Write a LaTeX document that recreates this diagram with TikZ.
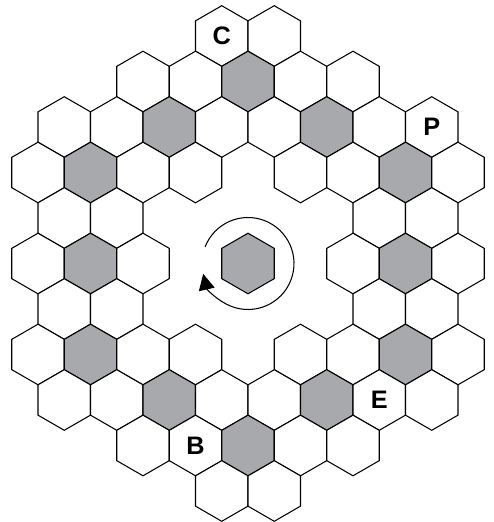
\documentclass[tikz,border=0pt]{standalone}
\usepackage{fontspec}
\setsansfont{Liberation Sans}
\usetikzlibrary{arrows.meta, shapes.geometric}
\definecolor{hexgray}{HTML}{A7A9AC}

\begin{document}
\begin{tikzpicture}[every node/.style={font=\sffamily\bfseries\fontsize{14.4}{15}\selectfont},
  cell/.style={regular polygon, regular polygon sides=6, shape border rotate=30, draw=black, line width=0.6pt, fill=white, minimum size=1.212cm, inner sep=0pt, outer sep=0pt},
  shaded/.style={cell, fill=hexgray},
]
\useasboundingbox (-4.96,-5.17) rectangle (4.9,5.27);
\node[cell] (h0-8) at (-0.525, 4.55) {C}; \node[cell] (h0-10) at (0.525, 4.55) {};
\node[cell] (h1-5) at (-2.1, 3.64) {}; \node[cell] (h1-7) at (-1.05, 3.64) {}; \node[shaded] (h1-9) at (0, 3.64) {}; \node[cell] (h1-11) at (1.05, 3.64) {}; \node[cell] (h1-13) at (2.1, 3.64) {};
\node[cell] (h2-2) at (-3.675, 2.73) {}; \node[cell] (h2-4) at (-2.625, 2.73) {}; \node[shaded] (h2-6) at (-1.575, 2.73) {}; \node[cell] (h2-8) at (-0.525, 2.73) {};
\node[cell] (h2-10) at (0.525, 2.73) {}; \node[shaded] (h2-12) at (1.575, 2.73) {}; \node[cell] (h2-14) at (2.625, 2.73) {}; \node[cell] (h2-16) at (3.675, 2.73) {P};
\node[cell] (h3-1) at (-4.2, 1.82) {}; \node[shaded] (h3-3) at (-3.15, 1.82) {}; \node[cell] (h3-5) at (-2.1, 1.82) {}; \node[cell] (h3-7) at (-1.05, 1.82) {};
\node[cell] (h3-11) at (1.05, 1.82) {}; \node[cell] (h3-13) at (2.1, 1.82) {}; \node[shaded] (h3-15) at (3.15, 1.82) {}; \node[cell] (h3-17) at (4.2, 1.82) {};
\node[cell] (h4-2) at (-3.675, 0.91) {}; \node[cell] (h4-4) at (-2.625, 0.91) {}; \node[cell] (h4-14) at (2.625, 0.91) {}; \node[cell] (h4-16) at (3.675, 0.91) {};
\node[cell] (h5-1) at (-4.2, 0) {}; \node[shaded] (h5-3) at (-3.15, 0) {}; \node[cell] (h5-5) at (-2.1, 0) {};
\node[cell] (h5-13) at (2.1, 0) {}; \node[shaded] (h5-15) at (3.15, 0) {}; \node[cell] (h5-17) at (4.2, 0) {};
\node[cell] (h6-2) at (-3.675, -0.91) {}; \node[cell] (h6-4) at (-2.625, -0.91) {}; \node[cell] (h6-14) at (2.625, -0.91) {}; \node[cell] (h6-16) at (3.675, -0.91) {};
\node[cell] (h7-1) at (-4.2, -1.82) {}; \node[shaded] (h7-3) at (-3.15, -1.82) {}; \node[cell] (h7-5) at (-2.1, -1.82) {}; \node[cell] (h7-7) at (-1.05, -1.82) {};
\node[cell] (h7-11) at (1.05, -1.82) {}; \node[cell] (h7-13) at (2.1, -1.82) {}; \node[shaded] (h7-15) at (3.15, -1.82) {}; \node[cell] (h7-17) at (4.2, -1.82) {};
\node[cell] (h8-2) at (-3.675, -2.73) {}; \node[cell] (h8-4) at (-2.625, -2.73) {}; \node[shaded] (h8-6) at (-1.575, -2.73) {}; \node[cell] (h8-8) at (-0.525, -2.73) {};
\node[cell] (h8-10) at (0.525, -2.73) {}; \node[shaded] (h8-12) at (1.575, -2.73) {}; \node[cell] (h8-14) at (2.625, -2.73) {E}; \node[cell] (h8-16) at (3.675, -2.73) {};
\node[cell] (h9-5) at (-2.1, -3.64) {}; \node[cell] (h9-7) at (-1.05, -3.64) {B}; \node[shaded] (h9-9) at (0, -3.64) {}; \node[cell] (h9-11) at (1.05, -3.64) {}; \node[cell] (h9-13) at (2.1, -3.64) {};
\node[cell] (h10-8) at (-0.525, -4.55) {}; \node[cell] (h10-10) at (0.525, -4.55) {};
\node[shaded] (hub) at (0, 0) {};
\coordinate (spin) at (159:0.92);
\draw[line width=0.6pt, -{Triangle[length=0.32cm, width=0.32cm]}] (spin) arc[start angle=159, end angle=-167, radius=0.92];
\end{tikzpicture}
\end{document}
